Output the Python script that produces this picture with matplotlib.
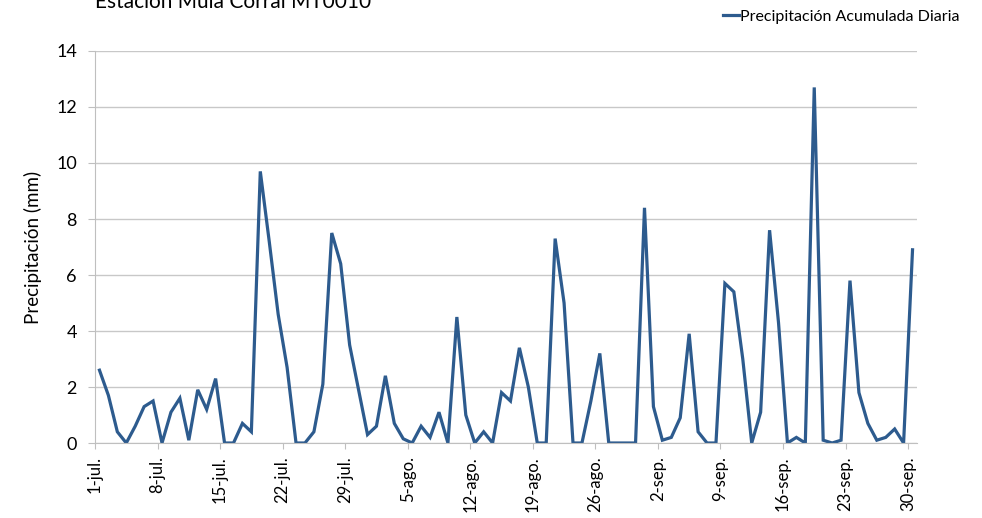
import matplotlib.pyplot as plt
import numpy as np

plt.rcParams['font.family'] = ['Lato', 'DejaVu Sans']

# daily precipitation (mm), 1-jul. .. 30-sep.
precip = [
    2.6, 1.7, 0.4, 0.0, 0.6, 1.3, 1.5, 0.0, 1.1, 1.6, 0.1, 1.9, 1.2, 2.3,
    0.0, 0.0, 0.7, 0.4, 9.7, 7.2, 4.6, 2.7, 0.0, 0.0, 0.4, 2.1, 7.5, 6.4,
    3.5, 1.9, 0.3, 0.6, 2.4, 0.7, 0.15, 0.0, 0.6, 0.2, 1.1, 0.0, 4.5, 1.0,
    0.0, 0.4, 0.0, 1.8, 1.5, 3.4, 2.0, 0.0, 0.0, 7.3, 5.0, 0.0, 0.0, 1.5,
    3.2, 0.0, 0.0, 0.0, 0.0, 8.4, 1.3, 0.1, 0.2, 0.9, 3.9, 0.4, 0.0, 0.0,
    5.7, 5.4, 3.0, 0.0, 1.1, 7.6, 4.3, 0.0, 0.2, 0.0, 12.7, 0.1, 0.0, 0.1,
    5.8, 1.8, 0.7, 0.1, 0.2, 0.5, 0.0, 6.9,
]
tick_labels = ["1-jul.", "8-jul.", "15-jul.", "22-jul.", "29-jul.", "5-ago.", "12-ago.",
               "19-ago.", "26-ago.", "2-sep.", "9-sep.", "16-sep.", "23-sep.", "30-sep."]
tick_days = list(range(0, 92, 7))

W, H = 982, 518
fig = plt.figure(figsize=(W / 100, H / 100), dpi=100)
ax = fig.add_axes([95 / W, (H - 443) / H, (917 - 95) / W, (443 - 51) / H])

days = np.arange(len(precip)) + 0.5
line_color = "#2d5b8e"
ax.plot(days, precip, color=line_color, lw=2.3, solid_joinstyle="miter",
        label="Precipitación Acumulada Diaria")

ax.set_xlim(0, len(precip))
ax.set_ylim(0, 14)
ax.set_yticks(range(0, 15, 2))
ax.set_xticks(tick_days)
ax.set_xticklabels(tick_labels, rotation=90, fontsize=12)
ax.tick_params(axis="y", labelsize=13, length=5, color="#bfbfbf", pad=8)
ax.tick_params(axis="x", length=4.5, color="#bfbfbf", direction="out", pad=5)
ax.grid(axis="y", color="#c8c8c8", lw=1)
ax.set_axisbelow(True)
for side in ("top", "right"):
    ax.spines[side].set_visible(False)
for side in ("left", "bottom"):
    ax.spines[side].set_color("#bfbfbf")
ax.set_ylabel("Precipitación (mm)", fontsize=13.5, labelpad=10)

fig.text(95 / W, 1 - 8 / H, "Estación Mula Corral MT0010", fontsize=15, va="baseline")
ax.legend(loc="upper right", bbox_to_anchor=(966 / W, 1 - 3 / H), bbox_transform=fig.transFigure,
          frameon=False, fontsize=11.5, handlelength=1.0, handletextpad=0.1, borderaxespad=0)

fig.savefig("out.png", dpi=100)
